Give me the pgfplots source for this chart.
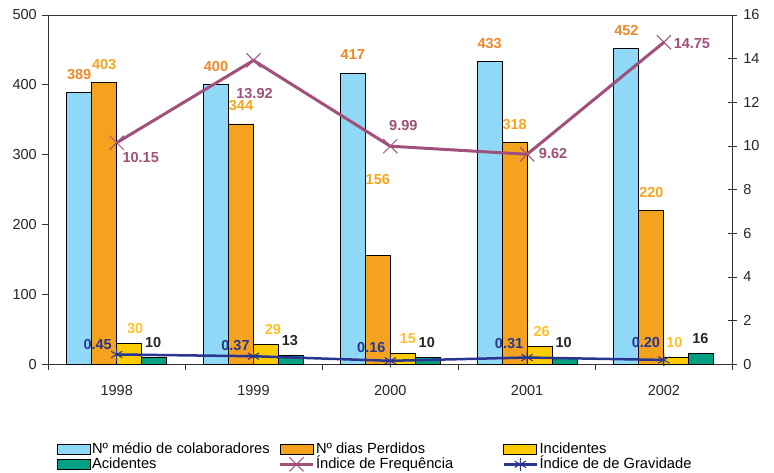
\documentclass[border=0pt]{standalone}
\usepackage{fontspec}
\setmainfont{Liberation Sans}
\usepackage{pgfplots}
\pgfplotsset{compat=1.18}
\usepackage{pgfplotstable}

\definecolor{cblue}{RGB}{143,216,248}
\definecolor{corange}{RGB}{245,163,31}
\definecolor{cyellow}{RGB}{255,204,0}
\definecolor{cgreen}{RGB}{0,160,128}
\definecolor{cpurple}{RGB}{160,80,122}
\definecolor{cnavy}{RGB}{42,53,144}
\definecolor{lblblue}{RGB}{240,135,40}
\definecolor{lblorange}{RGB}{245,165,30}
\definecolor{lblyellow}{RGB}{255,192,40}
\definecolor{axgray}{RGB}{50,50,50}

\newcommand{\fs}{\fontsize{14.5pt}{16pt}\selectfont}
\newcommand{\fl}{\fontsize{14.7pt}{16pt}\selectfont}

\pgfplotstableread{
x blue orange ody yellow ydx green
0 389 403 0  30  6 10
1 400 344 0  29  7 13
2 417 156 58 15  5 10
3 433 318 0  26  2 10
4 452 220 0  10 -2 16
}\bardata

\pgfplotstableread{
x freq fdx fdy grav gdx gdy
0 10.15 24 -15 0.45 -19 10
1 13.92  1 -33 0.37 -18 11
2 9.99  13  21 0.16 -19 13
3 9.62  26   1 0.31 -18 14
4 14.75 28  -1 0.20 -18 17
}\linedata

\pgfplotsset{
  barleg/.style={legend image code/.code={\draw[##1, draw=black, line width=0.8pt] (0pt,-5pt) rectangle (33pt,5pt);}},
  lineleg/.style={legend image code/.code={\draw[##1, mark indices={2}] plot coordinates {(0pt,0pt) (16.5pt,0pt) (33pt,0pt)};}},
}

\begin{document}
\begin{tikzpicture}
\useasboundingbox (0,0) rectangle (774pt,472pt);
\begin{axis}[
  at={(48.3pt,107.7pt)}, anchor=south west, scale only axis,
  width=684pt, height=349.3pt,
  xmin=-0.5, xmax=4.5, ymin=0, ymax=500,
  ybar=0pt, bar width=25pt,
  axis line style={draw=axgray, line width=0.8pt},
  xtick={0,1,2,3,4}, xticklabels={1998,1999,2000,2001,2002},
  major x tick style={draw=none},
  minor xtick={-0.5,0.5,1.5,2.5,3.5,4.5},
  minor tick length=6pt, major tick length=6pt,
  ytick={0,100,...,500},
  tick pos=left, tick align=outside,
  tick style={draw=axgray, line width=0.8pt},
  ticklabel style={font=\fs, text=black!85},
  xticklabel style={yshift=-12pt},
  yticklabel style={xshift=-2pt},
  /pgf/number format/assume math mode=true,
  point meta=y,
  clip=false,
]
\addplot[fill=cblue, draw=black, line width=0.9pt, nodes near coords,
  every node near coord/.append style={font=\fs\bfseries, text=lblblue, anchor=center, yshift=18pt}]
  table[x=x, y=blue] \bardata;
\addplot[fill=corange, draw=black, line width=0.9pt, nodes near coords,
  visualization depends on={\thisrow{ody} \as \ody},
  every node near coord/.append style={font=\fs\bfseries, text=lblorange, anchor=center, yshift=18pt+\ody pt}]
  table[x=x, y=orange] \bardata;
\addplot[fill=cyellow, draw=black, line width=0.9pt, nodes near coords,
  visualization depends on={\thisrow{ydx} \as \ydx},
  every node near coord/.append style={font=\fs\bfseries, text=lblyellow, anchor=center, yshift=15pt, xshift=\ydx pt}]
  table[x=x, y=yellow] \bardata;
\addplot[fill=cgreen, draw=black, line width=0.9pt, nodes near coords,
  every node near coord/.append style={font=\fs\bfseries, text=black!85, anchor=center, yshift=15pt, xshift=-1pt}]
  table[x=x, y=green] \bardata;
\end{axis}

\begin{axis}[
  at={(48.3pt,107.7pt)}, anchor=south west, scale only axis,
  width=684pt, height=349.3pt,
  xmin=-0.5, xmax=4.5, ymin=0, ymax=16,
  axis x line=none, axis y line*=right,
  axis line style={draw=axgray, line width=0.8pt},
  ytick={0,2,...,16}, ytick align=center, major tick length=9pt,
  tick style={draw=axgray, line width=0.8pt},
  ticklabel style={font=\fs, text=black!85},
  yticklabel style={xshift=3pt},
  /pgf/number format/assume math mode=true,
  point meta=y,
  clip=false,
  legend columns=3,
  legend style={draw=none, fill=none, font=\fl, at={(axis description cs:0.012,-0.222)}, anchor=north west,
    inner sep=0pt, row sep=-1pt, column sep=0pt, nodes={inner sep=1.5pt, text height=10pt, text depth=2.5pt}},
]
\addlegendimage{barleg, fill=cblue}
\addlegendentry{\makebox[185pt][l]{Nº médio de colaboradores}}
\addlegendimage{barleg, fill=corange}
\addlegendentry{\makebox[185pt][l]{Nº dias Perdidos}}
\addlegendimage{barleg, fill=cyellow}
\addlegendentry{\makebox[185pt][l]{Incidentes}}
\addlegendimage{barleg, fill=cgreen}
\addlegendentry{\makebox[185pt][l]{Acidentes}}
\addplot[cpurple, line width=3pt, mark=x, mark size=10pt, mark options={line width=1pt}, lineleg,
  nodes near coords={\pgfmathprintnumber[fixed,fixed zerofill,precision=2]{\pgfplotspointmeta}},
  visualization depends on={\thisrow{fdx} \as \fdx},
  visualization depends on={\thisrow{fdy} \as \fdy},
  every node near coord/.append style={font=\fs\bfseries, text=cpurple, anchor=center, xshift=\fdx pt, yshift=\fdy pt}]
  table[x=x, y=freq] \linedata;
\addlegendentry{\makebox[185pt][l]{Índice de Frequência}}
\addplot[cnavy, line width=2.5pt, mark=asterisk, mark size=6.5pt, mark options={line width=1pt}, lineleg,
  nodes near coords={\pgfmathprintnumber[fixed,fixed zerofill,precision=2]{\pgfplotspointmeta}},
  visualization depends on={\thisrow{gdx} \as \gdx},
  visualization depends on={\thisrow{gdy} \as \gdy},
  every node near coord/.append style={font=\fs\bfseries, text=cnavy, anchor=center, xshift=\gdx pt, yshift=\gdy pt}]
  table[x=x, y=grav] \linedata;
\addlegendentry{\makebox[185pt][l]{Índice de de Gravidade}}
\end{axis}
\end{tikzpicture}
\end{document}
